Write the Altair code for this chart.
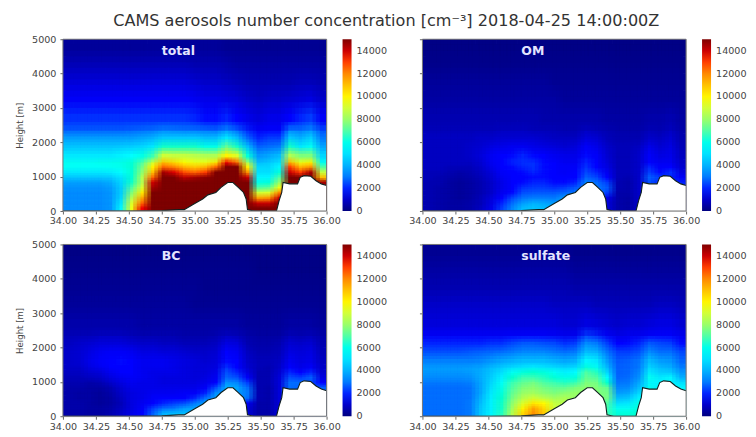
import altair as alt
import pandas as pd

x_edges = [34 + i * 0.08 for i in range(26)]
h_edges = [0,150,300,450,600,750,900,1050,1200,1350,1500,1750,2000,2250,2500,3000,3500,4000,4500,5000]

# values in hundreds of cm-3; one list per column, bottom row first
total = [
[33,33,33,33,34,37,44,52,57,58,52,44,36,26,21,16,12,8,4],
[33,33,33,33,34,37,44,52,57,58,52,44,36,26,21,16,12,8,4],
[33,33,33,33,34,37,44,52,57,58,52,44,36,26,21,16,12,8,4],
[33,33,33,33,34,37,44,52,57,59,52,44,36,26,21,16,12,8,4],
[35,35,35,35,36,39,45,53,58,59,52,44,36,26,21,16,12,8,4],
[55,52,48,46,46,48,51,56,59,60,54,45,36,26,21,16,12,8,4],
[95,92,85,75,70,65,63,63,63,63,56,46,36,27,21,16,12,8,4],
[135,125,115,102,92,85,85,78,74,70,60,48,38,28,21,16,12,8,4],
[150,150,150,150,145,140,125,110,100,90,68,52,40,29,21,16,12,8,4],
[150,150,150,150,150,150,150,145,125,110,90,65,45,32,21,16,12,8,4],
[150,150,150,150,150,150,150,138,120,105,88,65,45,31,21,16,12,8,4],
[150,150,150,150,150,150,142,128,112,98,88,65,45,30,21,16,12,8,4],
[150,150,150,150,150,150,145,125,108,95,86,65,45,30,20,15,11,7,4],
[150,150,150,150,150,150,148,130,112,95,84,60,42,29,19,14,10,7,4],
[150,150,150,150,150,150,150,150,125,102,84,60,42,28,19,14,10,7,4],
[150,150,150,150,150,150,150,150,150,135,100,72,52,34,20,13,9,6,3],
[150,150,150,150,150,150,150,150,150,125,92,65,42,27,17,12,8,5,3],
[150,150,150,150,150,150,140,118,100,82,62,42,27,20,14,10,7,5,3],
[150,140,115,90,70,60,55,50,48,42,35,26,20,16,12,9,7,5,3],
[150,140,118,92,72,62,55,50,48,45,38,28,22,18,14,10,7,5,3],
[150,150,140,120,95,80,70,62,55,50,42,30,22,18,14,10,7,5,3],
[150,150,150,150,150,150,150,140,130,112,85,65,45,32,18,11,7,5,3],
[150,150,150,150,150,150,150,130,112,95,75,52,40,30,20,12,8,5,3],
[150,150,150,150,150,150,150,145,118,100,75,58,46,34,22,13,8,5,3],
[145,145,145,145,145,145,110,88,70,58,48,38,30,24,16,10,7,5,3],
]
om = [
[7,7,7,7,7,7,8,8,9,9,9,9,9,8,7,5,4,2,1],
[6,6,6,6,6,7,7,8,9,9,9,9,9,8,7,5,4,2,1],
[5,5,5,5,5,5,6,7,8,9,9,9,9,8,7,5,4,2,1],
[5,5,4,4,4,4,5,6,8,9,9,9,9,8,7,5,4,2,1],
[6,6,5,5,5,5,6,7,8,9,10,10,9,8,7,5,4,2,1],
[9,8,8,7,7,7,8,9,10,11,12,11,10,8,7,5,4,2,1],
[14,13,12,10,10,10,11,12,14,15,15,13,10,8,7,5,4,2,1],
[22,20,17,15,14,14,15,16,17,18,17,14,11,9,7,5,4,2,1],
[32,28,23,19,18,17,17,18,19,20,19,15,11,9,7,5,4,2,1],
[42,36,29,24,21,19,18,19,20,21,20,15,11,9,7,5,4,2,1],
[44,40,31,25,22,20,19,20,21,21,19,14,11,8,7,5,4,2,1],
[42,38,31,25,22,20,19,19,19,19,18,13,10,8,6,5,4,2,1],
[38,36,30,25,21,19,18,18,18,17,15,12,9,8,6,5,3,2,1],
[36,36,36,27,22,19,17,16,16,15,14,11,9,7,6,4,3,2,1],
[30,30,30,30,25,20,18,17,16,15,14,12,9,7,6,4,3,2,1],
[30,30,30,30,30,32,26,23,21,20,19,16,12,9,6,4,3,2,1],
[30,30,30,30,30,28,23,20,18,17,16,14,11,8,6,4,3,2,1],
[12,12,14,22,25,22,18,15,13,12,11,10,8,7,5,4,3,2,1],
[6,6,6,6,7,7,8,8,8,8,8,8,7,6,5,4,3,2,1],
[5,5,5,6,6,6,7,8,8,8,8,8,7,6,5,4,3,2,1],
[10,10,10,10,10,10,10,10,10,10,10,9,7,6,5,4,3,2,1],
[22,22,22,22,22,24,26,22,20,18,16,14,10,8,6,4,3,2,1],
[20,20,20,20,20,20,22,19,16,15,13,11,9,7,6,4,3,2,1],
[20,20,20,20,20,20,20,21,18,15,14,13,11,9,7,4,3,2,1],
[20,20,20,20,20,20,16,13,11,10,9,8,7,6,5,4,3,2,1],
]
bc = [
[6,6,6,6,6,6,7,8,9,10,10,10,9,8,6,4,3,2,1],
[6,6,6,5,5,6,7,8,9,10,11,11,10,8,6,4,3,2,1],
[5,5,5,5,5,5,6,9,11,13,14,13,11,8,6,4,3,2,1],
[5,5,4,4,4,5,7,10,12,15,16,15,12,9,6,4,3,2,1],
[7,6,5,5,6,7,10,13,15,17,18,16,12,9,6,4,3,2,1],
[10,9,8,9,10,11,13,15,17,18,19,16,12,9,6,4,3,2,1],
[14,13,13,13,13,14,15,16,17,18,18,15,11,8,6,4,3,2,1],
[18,16,15,14,14,14,14,15,15,15,15,13,10,7,5,4,3,2,1],
[26,22,18,16,15,14,14,14,14,15,15,13,10,7,5,4,3,2,1],
[40,28,20,17,15,14,13,13,14,15,15,12,9,7,5,4,3,2,1],
[42,30,22,17,15,14,13,13,14,14,14,12,9,7,5,4,3,2,1],
[42,36,24,18,16,14,13,13,13,13,13,11,8,6,5,4,3,2,1],
[40,38,30,20,16,14,13,12,12,12,12,10,8,6,5,3,3,2,1],
[38,38,38,28,20,16,14,13,12,12,11,10,8,6,5,3,2,2,1],
[36,36,36,36,34,24,18,15,14,13,12,11,9,7,5,3,2,2,1],
[36,36,36,36,36,40,34,27,24,21,19,17,13,9,5,3,2,2,1],
[36,36,36,36,36,38,32,24,20,18,17,15,12,8,5,3,2,2,1],
[12,12,15,28,30,28,22,16,13,11,10,9,7,6,4,3,2,2,1],
[6,6,6,7,7,7,7,7,7,8,8,7,6,5,4,3,2,1,1],
[6,6,6,6,6,6,7,7,7,7,8,7,6,5,4,3,2,1,1],
[12,12,12,12,12,12,12,12,11,10,9,8,7,5,4,3,2,1,1],
[28,28,28,28,28,28,28,24,20,17,15,13,11,8,5,3,2,1,1],
[26,26,26,26,26,26,28,22,17,14,13,12,10,7,5,3,2,1,1],
[24,24,24,24,24,24,24,26,20,16,14,13,11,8,5,3,2,1,1],
[26,26,26,26,26,26,18,13,11,10,9,8,7,6,4,3,2,1,1],
]
sulfate = [
[28,28,28,28,28,28,30,33,35,36,31,24,20,16,12,10,7,5,3],
[28,28,28,28,28,28,30,33,35,36,31,24,20,16,12,10,7,5,3],
[28,28,28,28,28,28,30,33,35,36,31,24,20,16,12,10,7,5,3],
[28,28,28,28,28,28,30,33,35,36,31,24,20,16,12,10,7,5,3],
[30,30,30,29,29,29,31,34,36,37,31,25,20,16,12,10,7,5,3],
[45,44,42,40,38,38,38,39,39,38,32,26,20,16,12,10,7,5,3],
[55,54,54,53,52,50,48,46,44,42,35,27,21,16,12,10,7,5,3],
[66,65,65,64,62,60,57,54,50,46,38,28,21,16,12,10,7,5,3],
[85,82,78,74,72,70,68,64,58,50,40,30,23,17,12,10,7,5,3],
[105,100,92,85,80,76,72,68,62,52,42,32,25,18,12,10,7,5,3],
[118,115,102,90,82,78,74,68,64,54,42,32,25,18,12,10,7,5,3],
[108,105,98,86,78,74,70,66,62,52,42,32,24,17,12,10,7,5,3],
[90,90,88,82,75,72,68,63,58,50,40,30,23,16,12,9,7,5,3],
[85,85,85,84,78,72,66,60,54,48,38,28,21,15,11,9,7,5,3],
[80,80,80,80,80,75,68,62,56,50,40,30,22,15,11,9,6,4,2],
[78,78,78,78,78,78,75,72,70,62,55,42,33,22,13,9,6,4,2],
[76,76,76,76,76,76,74,70,66,58,52,40,30,20,12,8,6,4,2],
[68,68,70,74,74,72,64,56,48,42,36,29,22,16,11,8,6,4,2],
[62,58,50,42,36,32,29,27,26,26,25,22,18,14,10,8,6,4,2],
[62,58,52,44,38,33,30,28,27,27,26,22,19,15,11,8,6,4,2],
[64,62,60,54,48,42,38,34,32,30,29,24,20,15,11,8,6,4,2],
[58,58,58,58,58,58,55,58,52,48,42,33,25,17,12,8,6,4,2],
[52,52,52,52,52,52,55,52,46,42,36,28,23,17,13,9,6,4,2],
[55,55,55,55,55,55,55,55,45,40,35,28,22,18,13,9,6,4,2],
[55,55,55,55,55,55,50,40,35,31,27,23,19,15,11,8,6,4,2],
]

terrain_x = [34.0,34.5,34.75,34.88,34.92,35.0,35.06,35.1,35.16,35.2,35.25,35.29,35.33,35.37,35.39,35.4,35.45,35.62,35.64,35.66,35.67,35.72,35.78,35.8,35.83,35.88,35.92,35.96,36.0]
terrain_h = [0,0,10,40,40,220,350,470,540,690,830,830,690,540,350,40,0,0,300,540,830,790,790,980,1030,1010,880,790,740]

jet_stops = [0,0.11,0.125,0.34,0.375,0.5,0.64,0.65,0.66,0.89,0.91,1]
jet_colors = ["#00007f","#0000ff","#0000ff","#00e6ff","#00ffff","#7fff7f","#f5ff0a","#ffff00","#fffa00","#ff0000","#e80000","#7f0000"]
color_values = [1,2000,4000,6000,8000,10000,12000,14000]
x_ticks = [34,34.25,34.5,34.75,35,35.25,35.5,35.75,36]
y_ticks = [0,1000,2000,3000,4000,5000]
TC = "#444444"
SHIFTS = [(0, 0), (-1/3, 0), (1/3, 0), (0, -1/3), (0, 1/3), (-1/3, -1/3), (1/3, -1/3), (-1/3, 1/3), (1/3, 1/3)]

def cells(grid, fx, fy):
    rows = []
    for i, col in enumerate(grid):
        for j, v in enumerate(col):
            wx = x_edges[i+1] - x_edges[i]
            wy = h_edges[j+1] - h_edges[j]
            rows.append(dict(x0=x_edges[i]+fx*wx, x1=x_edges[i+1]+fx*wx+0.003,
                             y0=h_edges[j]+fy*wy, y1=h_edges[j+1]+fy*wy+8, v=v*100))
    return pd.DataFrame(rows)

def panel(name, grid, left):
    xs = alt.Scale(domain=[34,36], nice=False)
    ys = alt.Scale(domain=[0,5000], nice=False)
    cs = alt.Scale(domain=[s*15000 for s in jet_stops], range=jet_colors)
    xa = alt.Axis(values=x_ticks, format=".2f", title=None, labelFlush=False, labelOverlap=False,
                  grid=False, tickSize=3, labelFontSize=9.6, labelColor=TC, tickColor="#666666", domain=False, labelPadding=2)
    ya = alt.Axis(values=y_ticks, format="d", title="Height [m]" if left else None, labels=left, grid=False, tickSize=3,
                  labelFontSize=9.6, labelColor=TC, tickColor="#666666", domain=False, titleFontSize=8.6,
                  titleFontWeight="normal", titleColor=TC, titlePadding=7, labelPadding=4)
    X = lambda f: alt.X(f, scale=xs, axis=xa)
    Y = lambda f: alt.Y(f, scale=ys, axis=ya)
    leg = alt.Legend(title=None, values=color_values, labelExpr="datum.value < 10 ? '0' : format(datum.value, 'd')",
                     gradientLength=172, gradientThickness=9,
                     labelFontSize=9.6, labelColor=TC, offset=16, labelOverlap=False, padding=0, labelOffset=5,
                     labelBaseline="middle")
    layers = []
    for k, (fx, fy) in enumerate(SHIFTS):
        layers.append(alt.Chart(cells(grid, fx, fy)).mark_rect(clip=True, opacity=1/(k+1)).encode(
            x=X("x0:Q"), x2="x1:Q", y=Y("y0:Q"), y2="y1:Q",
            color=alt.Color("v:Q", scale=cs, legend=leg)))
    tdf = pd.DataFrame(dict(x=terrain_x, h=terrain_h))
    ground = alt.Chart(tdf).mark_area(color="white", interpolate="linear", clip=True).encode(x=X("x:Q"), y=Y("h:Q"))
    edge = alt.Chart(tdf).mark_line(color="#10201f", strokeWidth=1.1, clip=True).encode(x=X("x:Q"), y=Y("h:Q"))
    label = alt.Chart(pd.DataFrame(dict(x=[34.75], y=[4660], t=[name]))).mark_text(
        align="left", baseline="middle", fontWeight="bold", fontSize=12.5, color="#e4e4ff", font="DejaVu Sans"
    ).encode(x=X("x:Q"), y=Y("y:Q"), text="t:N")
    frame = alt.Chart(pd.DataFrame(dict(a=[34], b=[36], c=[0], d=[5000]))).mark_rect(
        fill=None, stroke="#777777", strokeWidth=1).encode(x=X("a:Q"), x2="b:Q", y=Y("c:Q"), y2="d:Q")
    return alt.layer(*layers, ground, edge, label, frame).properties(width=264, height=172)

chart = alt.concat(
    panel("total", total, True), panel("OM", om, False),
    panel("BC", bc, True), panel("sulfate", sulfate, False),
    columns=2, spacing={"row": 33.5, "column": 96}, bounds="flush",
).resolve_scale(color="independent").properties(
    title=alt.TitleParams("CAMS aerosols number concentration [cm⁻³] 2018-04-25 14:00:00Z",
                          fontSize=16.1, fontWeight="normal", color="#333333", font="DejaVu Sans", anchor="middle", dx=5, offset=4.5),
    padding={"left": 7, "top": 4, "right": 0, "bottom": 0},
).configure_view(stroke=None).configure(font="DejaVu Sans", background="white")

chart.save("out.html", embed_options={"renderer": "svg", "actions": False})
